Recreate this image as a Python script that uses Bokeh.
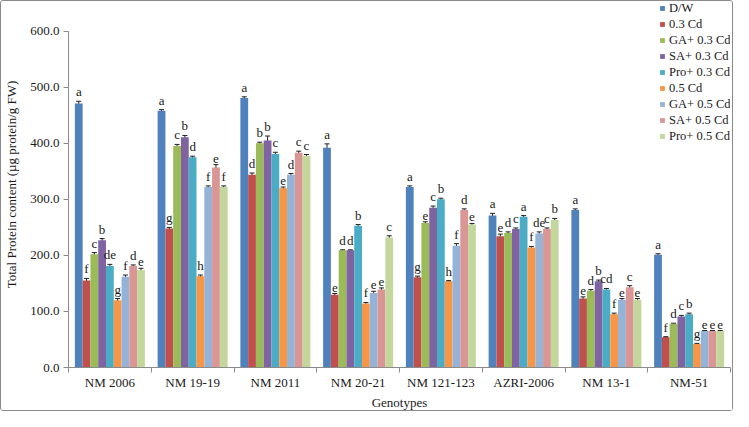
from bokeh.plotting import figure
from bokeh.models import (ColumnDataSource, Range1d, FixedTicker, Whisker, TeeHead,
                          Legend, LegendItem, NumeralTickFormatter)
from bokeh.core.properties import value
from bokeh.embed import file_html
from bokeh.resources import INLINE

genotypes = ["NM 2006", "NM 19-19", "NM 2011", "NM 20-21", "NM 121-123",
             "AZRI-2006", "NM 13-1", "NM-51"]
series = ["D/W", "0.3 Cd", "GA+ 0.3 Cd", "SA+ 0.3 Cd", "Pro+ 0.3 Cd",
          "0.5 Cd", "GA+ 0.5 Cd", "SA+ 0.5 Cd", "Pro+ 0.5 Cd"]
colors = ["#4F81BD", "#C0504D", "#9BBB59", "#8064A2", "#4BACC6",
          "#F79646", "#95B3D7", "#D99694", "#C3D69B"]
y_title = "Total Protein content (µg protein/g FW)"
x_title = "Genotypes"
y_ticks = [0, 100, 200, 300, 400, 500, 600]

dw = [471, 458, 481, 392, 322, 271, 281, 201]
cd03 = [155, 248, 344, 130, 161, 234, 123, 54]
ga03 = [202, 395, 400, 209, 258, 240, 137, 78]
sa03 = [227, 411, 405, 209, 285, 247, 154, 91]
pro03 = [181, 375, 381, 253, 300, 269, 139, 95]
cd05 = [120, 163, 320, 114, 154, 214, 95, 42]
ga05 = [162, 322, 344, 133, 217, 239, 121, 65]
sa05 = [181, 357, 383, 139, 281, 247, 143, 65]
pro05 = [174, 322, 378, 232, 255, 263, 121, 65]

err_dw = [4, 2, 2, 7, 2, 4, 2, 2]
err_cd03 = [4, 2, 3, 2, 2, 4, 3, 1]
err_ga03 = [3, 3, 2, 1, 2, 2, 2, 1]
err_sa03 = [3, 3, 8, 1, 3, 2, 2, 2]
err_pro03 = [3, 2, 3, 2, 2, 2, 2, 2]
err_cd05 = [3, 2, 2, 2, 1, 2, 2, 1]
err_ga05 = [3, 2, 2, 3, 4, 3, 2, 1]
err_sa05 = [2, 5, 3, 3, 2, 2, 3, 1]
err_pro05 = [3, 2, 2, 3, 2, 3, 2, 1]

let_dw = ["a", "a", "a", "a", "a", "a", "a", "a"]
let_cd03 = ["f", "g", "d", "e", "g", "e", "e", "f"]
let_ga03 = ["c", "c", "b", "d", "e", "d", "d", "d"]
let_sa03 = ["b", "b", "b", "d", "c", "c", "b", "c"]
let_pro03 = ["de", "d", "c", "b", "b", "a", "cd", "b"]
let_cd05 = ["g", "h", "e", "f", "h", "f", "f", "g"]
let_ga05 = ["f", "f", "d", "e", "f", "de", "e", "e"]
let_sa05 = ["d", "e", "c", "e", "d", "c", "c", "e"]
let_pro05 = ["e", "f", "c", "c", "e", "b", "e", "e"]

values = [dw, cd03, ga03, sa03, pro03, cd05, ga05, sa05, pro05]
errors = [err_dw, err_cd03, err_ga03, err_sa03, err_pro03, err_cd05, err_ga05, err_sa05, err_pro05]
letters = [let_dw, let_cd03, let_ga03, let_sa03, let_pro03, let_cd05, let_ga05, let_sa05, let_pro05]

FONT = "'Liberation Serif'"
TXT = "#1a1a1a"
AX = "#8a8a8a"
BAR_W = 0.094
n = len(genotypes)

# frame reaches the top of the canvas so that the legend (drawn inside it) is not clipped;
# the y range leaves ~30px of headroom above 600
p = figure(width=733, height=411, output_backend="svg", toolbar_location=None,
           x_range=Range1d(0, n), y_range=Range1d(0, 653),
           min_border_left=66, min_border_right=4, min_border_top=0, min_border_bottom=43)
p.styles = {"border": "1px solid #8a8a8a", "border-radius": "3px"}
p.outline_line_color = None
p.xgrid.grid_line_color = None
p.ygrid.grid_line_color = None

items = []
for i, (name, col, vals, errs, lets) in enumerate(zip(series, colors, values, errors, letters)):
    xs = [g + 0.5 + (i - 4) * BAR_W for g in range(n)]
    src = ColumnDataSource(dict(x=xs, top=vals,
                                upper=[v + e for v, e in zip(vals, errs)],
                                lower=[v - e for v, e in zip(vals, errs)],
                                lab=lets))
    r = p.vbar(x="x", top="top", bottom=0, width=BAR_W, source=src,
               fill_color=col, line_color=None)
    items.append(LegendItem(label=name, renderers=[r]))
    p.add_layout(Whisker(base="x", upper="upper", lower="lower", source=src,
                         line_color="#222222", line_width=1,
                         upper_head=TeeHead(size=5, line_color="#222222", line_width=1),
                         lower_head=TeeHead(size=5, line_color="#222222", line_width=1)))
    p.text(x="x", y="upper", text="lab", source=src, text_align="center",
           text_baseline="bottom", y_offset=-2, text_font=value(FONT),
           text_font_size="13px", text_color=TXT)

legend = Legend(items=items, location=(591, 223), orientation="vertical",
                label_text_font=FONT, label_text_font_size="12.5px",
                label_text_color=TXT, glyph_width=6, glyph_height=6,
                label_height=16, spacing=0, padding=0, margin=0,
                label_standoff=4, border_line_color=None,
                background_fill_alpha=0)
p.add_layout(legend, "center")

# axes
xa = p.xaxis[0]
xa.ticker = FixedTicker(ticks=[g + 0.5 for g in range(n)],
                        minor_ticks=list(range(n + 1)))
xa.major_label_overrides = {g + 0.5: genotypes[g] for g in range(n)}
xa.major_tick_line_color = None
xa.major_tick_out = 5
xa.major_tick_in = 0
xa.minor_tick_out = 5
xa.minor_tick_in = 0
xa.minor_tick_line_color = AX
xa.axis_line_color = AX
xa.major_label_standoff = 2
xa.major_label_text_font = FONT
xa.major_label_text_font_size = "13px"
xa.major_label_text_color = TXT
xa.axis_label = x_title
xa.axis_label_text_font = FONT
xa.axis_label_text_font_size = "13px"
xa.axis_label_text_font_style = "normal"
xa.axis_label_text_color = TXT
xa.axis_label_standoff = 2

ya = p.yaxis[0]
ya.ticker = FixedTicker(ticks=y_ticks)
ya.bounds = (y_ticks[0], y_ticks[-1])
ya.formatter = NumeralTickFormatter(format="0.0")
ya.major_tick_out = 5
ya.major_tick_in = 0
ya.minor_tick_line_color = None
ya.major_tick_line_color = AX
ya.axis_line_color = AX
ya.major_label_standoff = 4
ya.major_label_text_font = FONT
ya.major_label_text_font_size = "13px"
ya.major_label_text_color = TXT
ya.axis_label = y_title
ya.axis_label_text_font = FONT
ya.axis_label_text_font_size = "13px"
ya.axis_label_text_font_style = "normal"
ya.axis_label_text_color = TXT
ya.axis_label_standoff = 8

open("out.html", "w").write(file_html(p, INLINE))
